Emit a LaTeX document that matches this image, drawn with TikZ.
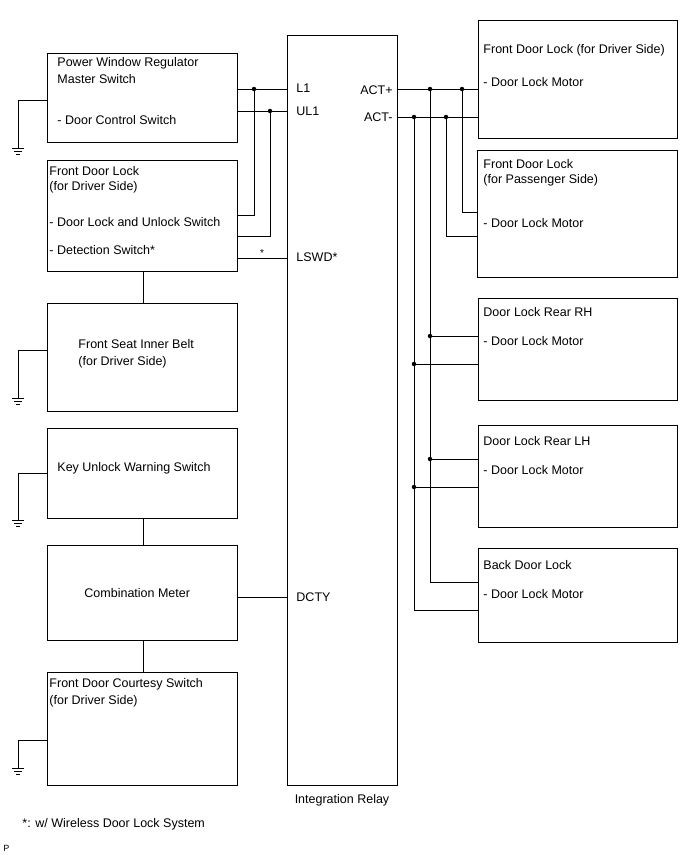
\documentclass[tikz,border=0pt]{standalone}
\usepackage{fontspec}
\setmainfont{Liberation Sans}
\begin{document}
\begin{tikzpicture}[x=1pt,y=-1pt,line width=0.9pt,
    txt/.style={anchor=west,inner sep=0pt,font=\fontsize{12.5}{14}\selectfont},
    dot/.style={circle,fill,inner sep=0pt,minimum size=4.5pt}]
    \useasboundingbox (0,0) rectangle (690,855);
    % Boxes
    \draw (47,53) rectangle (237,142);
    \draw (47,160) rectangle (237,271);
    \draw (47,303) rectangle (237,411);
    \draw (47,428) rectangle (237,518);
    \draw (47,545) rectangle (237,640);
    \draw (47,672) rectangle (237,785);
    \draw (287,35) rectangle (397,785);
    \draw (478,20) rectangle (677,138);
    \draw (477,150) rectangle (677,277);
    \draw (478,298) rectangle (677,400);
    \draw (478,425) rectangle (677,527);
    \draw (478,548) rectangle (677,642);

    % Left texts
    \node[txt] at (57,63) {Power Window Regulator};
    \node[txt] at (57,79) {Master Switch};
    \node[txt] at (57,120) {- Door Control Switch};
    \node[txt] at (49,171) {Front Door Lock};
    \node[txt] at (49,187) {(for Driver Side)};
    \node[txt] at (49,222) {- Door Lock and Unlock Switch};
    \node[txt] at (49,250) {- Detection Switch*};
    \node[txt] at (78,344) {Front Seat Inner Belt};
    \node[txt] at (78,362) {(for Driver Side)};
    \node[txt] at (57,468) {Key Unlock Warning Switch};
    \node[txt] at (84,593) {Combination Meter};
    \node[txt] at (49,684) {Front Door Courtesy Switch};
    \node[txt] at (49,701) {(for Driver Side)};

    % Relay texts
    \node[txt] at (296,88) {L1};
    \node[txt] at (296,111) {UL1};
    \node[txt] at (296,257) {LSWD*};
    \node[txt] at (296,597) {DCTY};
    \node[txt,anchor=east] at (393,90) {ACT+};
    \node[txt,anchor=east] at (393,117) {ACT-};
    \node[txt,anchor=center] at (342,800) {Integration Relay};

    % Right texts
    \node[txt] at (483,50) {Front Door Lock (for Driver Side)};
    \node[txt] at (483,82) {- Door Lock Motor};
    \node[txt] at (483,164) {Front Door Lock};
    \node[txt] at (483,180) {(for Passenger Side)};
    \node[txt] at (483,223) {- Door Lock Motor};
    \node[txt] at (483,312) {Door Lock Rear RH};
    \node[txt] at (483,341) {- Door Lock Motor};
    \node[txt] at (483,441) {Door Lock Rear LH};
    \node[txt] at (483,470) {- Door Lock Motor};
    \node[txt] at (483,565) {Back Door Lock};
    \node[txt] at (483,594) {- Door Lock Motor};

    % Left wiring
    \draw (237,89) -- (287,89);
    \draw (237,111) -- (287,111);
    \draw (254,89) -- (254,215) -- (237,215);
    \draw (270,111) -- (270,236) -- (237,236);
    \node[dot] at (254,89) {};
    \node[dot] at (270,111) {};
    \draw (237,258) -- (287,258) node[pos=0.5,above,inner sep=1pt,font=\fontsize{10}{10}\selectfont] {*};
    \draw (237,597) -- (287,597);
    \draw (143,271) -- (143,303);
    \draw (143,518) -- (143,545);
    \draw (143,640) -- (143,672);

    % Grounds
    \foreach \y/\g in {100/148, 350/398, 473/520, 740/768} {
        \draw (47,\y) -- (18,\y) -- (18,\g);
        \draw (12,\g) -- (24,\g) (14,\g+3) -- (22,\g+3) (16,\g+6) -- (20,\g+6);
    }

    % Right wiring
    \draw (397,89) -- (478,89);
    \draw (397,117) -- (478,117);
    \draw (462,89) -- (462,212) -- (477,212);
    \draw (446,117) -- (446,236) -- (477,236);
    \draw (430,89) -- (430,582) -- (478,582);
    \draw (414,117) -- (414,610) -- (478,610);
    \draw (430,336) -- (478,336) (414,364) -- (478,364);
    \draw (430,459) -- (478,459) (414,487) -- (478,487);
    \foreach \p in {(430,89),(462,89),(414,117),(446,117),(430,336),(414,364),(430,459),(414,487)}
        \node[dot] at \p {};

    % Footnote
    \node[txt] at (22,824) {*: w/ Wireless Door Lock System};
    \node[txt,font=\fontsize{9}{9}\selectfont] at (3,848) {P};
\end{tikzpicture}
\end{document}
